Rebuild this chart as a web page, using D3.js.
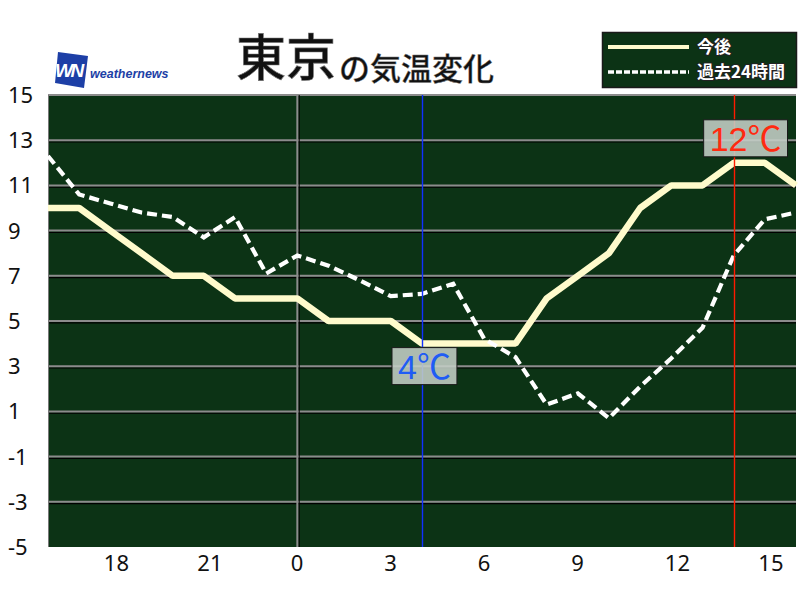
<!DOCTYPE html>
<html><head><meta charset="utf-8">
<script src="https://cdn.jsdelivr.net/npm/d3@7/dist/d3.min.js"></script>
<style>body{margin:0;background:#fff}svg{display:block}</style>
</head><body><svg id="c" width="800" height="600"></svg>
<script>
// ---- data ----
const hours = [16,17,18,19,20,21,22,23,24,25,26,27,28,29,30,31,32,33,34,35,36,37,38,39,40];
const future = [10,10,9,8,7,7,6,6,6,5,5,5,4,4,4,4,6,7,8,10,11,11,12,12,11];
const past = [12.3,10.6,10.2,9.8,9.6,8.7,9.6,7.1,7.9,7.45,6.8,6.1,6.2,6.65,4.2,3.4,1.3,1.8,0.7,2.1,3.35,4.7,7.9,9.5,9.8];
const xTickPos = [18,21,24,27,30,33,36,39];
const xTickLabels = ["18","21","0","3","6","9","12","15"];
const yTicks = [15,13,11,9,7,5,3,1,-1,-3,-5];
const seriesNames = ["今後","過去24時間"];
const titleMain = "東京";
const titleSub = "の気温変化";
const minMark = {hour: 28, value: 4, text: "4℃"};
const maxMark = {hour: 38, value: 12, text: "12℃"};

// ---- layout ----
const svg = d3.select("#c");
const L = 48, R = 796, T = 95, B = 547;
const x = d3.scaleLinear().domain([16, 40]).range([L, R]);
const y = d3.scaleLinear().domain([-5, 15]).range([B, T]);
const digitFont = "'Noto Sans', 'DejaVu Sans', sans-serif";
const jpFont = "'Noto Sans CJK JP', sans-serif";

// plot background
svg.append("rect").attr("x", L).attr("y", T).attr("width", R - L).attr("height", B - T).attr("fill", "#0c3315");

// horizontal grid
const gy = yTicks.filter(v => v > -5);
svg.append("g").selectAll("line").data(gy.filter(v => v < 15)).join("line")
  .attr("x1", L).attr("x2", R).attr("y1", d => y(d) + 1.8).attr("y2", d => y(d) + 1.8)
  .attr("stroke", "#000").attr("stroke-width", 1.2);
svg.append("g").selectAll("line").data(gy).join("line")
  .attr("x1", L).attr("x2", R).attr("y1", d => y(d)).attr("y2", d => y(d))
  .attr("stroke", "#8c8c8c").attr("stroke-width", 2);
// left border
svg.append("line").attr("x1", L + 0.5).attr("x2", L + 0.5).attr("y1", T).attr("y2", B).attr("stroke", "#777").attr("stroke-width", 1);
// midnight vertical grid
svg.append("line").attr("x1", x(24) + 1.8).attr("x2", x(24) + 1.8).attr("y1", T).attr("y2", B).attr("stroke", "#000").attr("stroke-width", 1.2);
svg.append("line").attr("x1", x(24)).attr("x2", x(24)).attr("y1", T).attr("y2", B).attr("stroke", "#8c8c8c").attr("stroke-width", 2);

// series lines
const lineGen = d3.line().x((d, i) => x(hours[i])).y(d => y(d));
svg.append("path").datum(future).attr("d", lineGen).attr("fill", "none")
  .attr("stroke", "#fffbcc").attr("stroke-width", 6.5).attr("stroke-linejoin", "bevel");
svg.append("path").datum(past).attr("d", lineGen).attr("fill", "none")
  .attr("stroke", "#ffffff").attr("stroke-width", 4.2).attr("stroke-dasharray", "10,5");

// marker vertical lines
const snap = v => Math.round(v) + 0.5;
svg.append("line").attr("x1", snap(x(minMark.hour))).attr("x2", snap(x(minMark.hour))).attr("y1", T).attr("y2", B)
  .attr("stroke", "#1030ff").attr("stroke-width", 1.4);
svg.append("line").attr("x1", snap(x(maxMark.hour))).attr("x2", snap(x(maxMark.hour))).attr("y1", T).attr("y2", B)
  .attr("stroke", "#ff1a00").attr("stroke-width", 1.4);

// value labels
function valueLabel(m, color, below) {
  const g = svg.append("g");
  const bx = x(m.hour) - 30;
  const bh = 37;
  const by = below ? y(m.value) + 4 : y(m.value) - 6 - bh;
  const rect = g.append("rect").attr("x", bx).attr("y", by).attr("height", bh)
    .attr("fill", "rgb(196,206,198)").attr("fill-opacity", 0.88).attr("stroke", "#1a1a1a").attr("stroke-width", 1);
  const t = g.append("text").attr("x", bx + 6).attr("y", by + 31).text(m.text)
    .attr("font-family", "'Liberation Sans', 'Noto Sans CJK JP', sans-serif").attr("font-size", 34).attr("fill", color);
  const w = t.node().getComputedTextLength();
  rect.attr("width", w + 12);
}
valueLabel(minMark, "#1f5cf5", true);
valueLabel(maxMark, "#ff2a10", false);

// y axis labels
svg.append("g").selectAll("text").data(yTicks).join("text")
  .attr("x", 8).attr("y", d => y(d)).attr("dy", "0.36em").text(d => d)
  .attr("font-family", digitFont).attr("font-size", 22).attr("fill", "#111");
// x axis labels
svg.append("g").selectAll("text").data(xTickPos).join("text")
  .attr("x", d => x(d) - 6.5).attr("y", 571).text((d, i) => xTickLabels[i])
  .attr("font-family", digitFont).attr("font-size", 22).attr("fill", "#111");

// title
svg.append("text").attr("x", 236).attr("y", 76).text(titleMain)
  .attr("font-family", jpFont).attr("font-weight", 500).attr("font-size", 50).attr("fill", "#111")
  .attr("stroke", "#777").attr("stroke-width", 0.6);
svg.append("text").attr("x", 339).attr("y", 80).text(titleSub)
  .attr("font-family", jpFont).attr("font-weight", 500).attr("font-size", 31).attr("fill", "#111")
  .attr("stroke", "#777").attr("stroke-width", 0.4);

// logo
svg.append("path").attr("d", "M58,52 L88,56 L84,88 L55,83 Z").attr("fill", "#1d3fa6");
svg.append("text").attr("x", 55).attr("y", 77).text("WN")
  .attr("font-family", "'Liberation Sans', sans-serif").attr("font-weight", "bold").attr("font-style", "italic")
  .attr("font-size", 19).attr("fill", "#fff").attr("letter-spacing", -2.5);
svg.append("text").attr("x", 90).attr("y", 78).text("weathernews")
  .attr("font-family", "'Liberation Sans', sans-serif").attr("font-weight", "bold").attr("font-style", "italic")
  .attr("font-size", 12.5).attr("fill", "#1d3fa6");

// legend
const lg = svg.append("g");
lg.append("rect").attr("x", 602.5).attr("y", 32.5).attr("width", 194).attr("height", 55)
  .attr("fill", "#0c3315").attr("stroke", "#1a1a1a").attr("stroke-width", 1.5);
lg.append("line").attr("x1", 608).attr("x2", 689).attr("y1", 47).attr("y2", 47)
  .attr("stroke", "#fffbcc").attr("stroke-width", 4);
lg.append("line").attr("x1", 608).attr("x2", 689).attr("y1", 72).attr("y2", 72)
  .attr("stroke", "#fff").attr("stroke-width", 3.5).attr("stroke-dasharray", "6,2");
lg.selectAll("text").data(seriesNames).join("text")
  .attr("x", 697).attr("y", (d, i) => 47 + i * 25).attr("dy", "0.36em").text(d => d)
  .attr("font-family", jpFont).attr("font-weight", "bold").attr("font-size", 17).attr("fill", "#fff")
  .attr("stroke", "#222").attr("stroke-width", 2).attr("paint-order", "stroke");
</script></body></html>
